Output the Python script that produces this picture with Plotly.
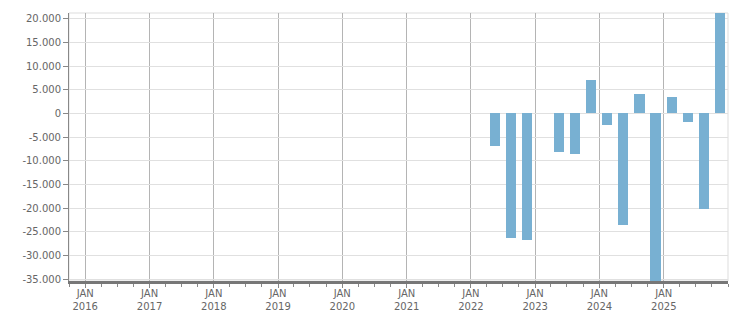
import plotly.graph_objects as go

quarters = ["2022-05-16", "2022-08-16", "2022-11-15", "2023-02-14", "2023-05-16",
            "2023-08-16", "2023-11-15", "2024-02-14", "2024-05-16", "2024-08-16",
            "2024-11-15", "2025-02-14", "2025-05-16", "2025-08-16", "2025-11-15"]
values = [-6950, -26300, -26800, None, -8200, -8500, 7000, -2500, -23600, 4000,
          -36000, 3400, -1900, -20100, 21500]

year_ticks = list(range(2016, 2026))
y_ticks = [20000, 15000, 10000, 5000, 0, -5000, -10000, -15000, -20000, -25000, -30000, -35000]


def fmt(v):
    s = f"{abs(v):,}".replace(",", ".")
    return ("-" + s) if v < 0 else s


bar_width_ms = 57 * 24 * 3600 * 1000

fig = go.Figure()
fig.add_trace(go.Bar(x=quarters, y=values, width=bar_width_ms,
                     marker=dict(color="#78b0d2", line=dict(width=0))))

fig.update_layout(
    width=751, height=313,
    margin=dict(l=69, r=23, t=13, b=32),
    paper_bgcolor="white", plot_bgcolor="white",
    showlegend=False,
    font=dict(family="DejaVu Sans", size=10, color="#666666"),
    bargap=0,
)
fig.update_xaxes(
    type="date",
    automargin=False,
    range=["2015-10-01", "2026-01-01"],
    tickvals=[f"{y}-01-01" for y in year_ticks],
    ticktext=[f"JAN<br>{y}" for y in year_ticks],
    showgrid=True, gridcolor="#b4b4b4", gridwidth=1,
    ticks="outside", ticklen=4, tickcolor="#888888",
    ticklabelstandoff=-3,
    minor=dict(dtick="M3", tick0="2016-01-01", ticks="outside", ticklen=3,
               tickcolor="#888888", showgrid=False),
    showline=True, linecolor="#777777", linewidth=3,
    zeroline=False,
    tickfont=dict(size=10, color="#666666"),
)
fig.update_yaxes(
    automargin=False,
    range=[-35400, 21200],
    tickvals=y_ticks,
    ticktext=[fmt(v) for v in y_ticks],
    showgrid=True, gridcolor="#e0e0e0", gridwidth=1,
    ticks="outside", ticklen=5, tickcolor="#888888",
    showline=True, linecolor="#888888", linewidth=1,
    zeroline=False,
    tickfont=dict(size=10, color="#666666"),
)
fig.add_shape(type="rect", xref="paper", yref="paper", x0=0, x1=1, y0=0, y1=1,
              line=dict(color="#dddddd", width=1), layer="below")

fig.write_html("out.html")
